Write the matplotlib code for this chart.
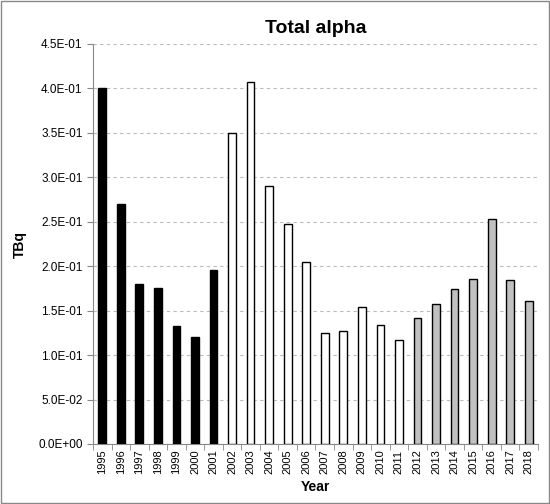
import matplotlib.pyplot as plt
from matplotlib.ticker import FuncFormatter

years = list(range(1995, 2019))
values = [0.400, 0.270, 0.180, 0.175, 0.133, 0.120, 0.196,
          0.350, 0.407, 0.290, 0.248, 0.205, 0.125, 0.127, 0.154, 0.134, 0.117,
          0.142, 0.157, 0.174, 0.186, 0.253, 0.184, 0.161]
colors = ['black'] * 7 + ['white'] * 10 + ['#c0c0c0'] * 7

plt.rcParams['font.family'] = ['Liberation Sans', 'DejaVu Sans']
fig = plt.figure(figsize=(5.5, 5.04), dpi=100)
ax = fig.add_axes([93 / 550, 60 / 504, 445 / 550, 400 / 504])

x = range(len(years))
ax.bar(x, values, width=0.42, color=colors, edgecolor='black', linewidth=1, zorder=3)
ax.set_xlim(-0.5, len(years) - 0.5)
ax.set_ylim(0, 0.45)
ax.set_yticks([i * 0.05 for i in range(10)])
ax.yaxis.set_major_formatter(FuncFormatter(lambda v, p: f"{v:.1E}".replace('E-0', 'E-0')))
ax.set_xticks(list(x))
ax.set_xticklabels([str(y) for y in years], rotation=90, fontsize=8)
ax.set_xticks([i - 0.5 for i in range(len(years) + 1)], minor=True)
ax.tick_params(axis='x', which='major', length=0, pad=4)
ax.tick_params(axis='x', which='minor', length=4, color='#888888')
ax.tick_params(axis='y', labelsize=8.5, length=4, color='#888888')
ax.grid(axis='y', linestyle=(0, (3, 3)), color='#bbbbbb', linewidth=0.8, zorder=0)
for s in ['top', 'right']:
    ax.spines[s].set_visible(False)
for s in ['left', 'bottom']:
    ax.spines[s].set_color('#888888')

ax.set_title('Total alpha', fontsize=14, fontweight='bold', pad=8)
ax.set_xlabel('Year', fontsize=10, fontweight='bold', labelpad=4)
ax.set_ylabel('TBq', fontsize=10, fontweight='bold', labelpad=8)

fig.add_artist(plt.Rectangle((0.001, 0.001), 0.997, 0.997, transform=fig.transFigure,
                             fill=False, edgecolor='#888888', linewidth=1))
fig.savefig('out.png', dpi=100)
